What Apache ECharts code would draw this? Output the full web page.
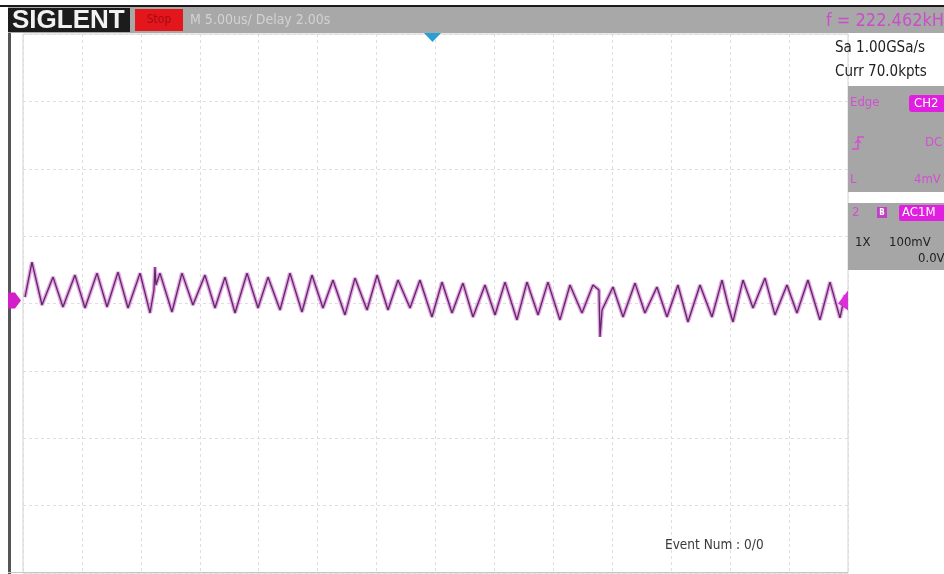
<!DOCTYPE html>
<html><head><meta charset="utf-8">
<script src="https://cdn.jsdelivr.net/npm/echarts@6/dist/echarts.min.js"></script>
<style>html,body{margin:0;padding:0;background:#fff}#c{width:944px;height:574px}</style>
</head><body><div id="c"></div>
<script>
// time (µs) and CH2 voltage (mV)
const timeUs = [
 -34.83,-34.24,-33.39,-32.45,-31.61,-30.59,-29.74,-28.72,-27.87,-26.94,
 -26.09,-25.07,-24.22,-23.89,-23.80,-23.72,-23.38,-22.36,-21.51,-20.58,
 -19.56,-18.71,-17.86,-17.01,-15.99,-15.06,-14.21,-13.19,-12.35,-11.33,
 -10.48,-9.55,-8.70,-7.68,-6.83,-5.81,-4.96,-4.03,-3.18,-2.16,
 -1.32,-0.30,0.55,1.40,2.33,3.18,4.20,5.05,5.90,6.91,
 7.76,8.70,9.54,10.56,11.41,12.43,13.36,13.87,13.96,14.13,
 15.06,15.91,16.93,17.77,18.79,19.64,20.57,21.42,22.44,23.46,
 24.31,24.82,25.24,26.09,26.94,27.96,28.80,29.82,30.67,31.60,
 32.62,33.47,34.32,34.74];
const voltsMv = [
 9.6,61.4,-2.2,39.2,-5.2,42.2,-6.7,45.1,-5.2,46.6,
 -6.7,45.1,-14.1,20.0,54.0,27.4,45.1,-12.6,45.1,-2.2,
 42.2,-6.7,39.2,-14.1,45.1,-6.7,39.2,-9.6,45.1,-12.6,
 42.2,-6.7,34.8,-17.0,37.7,-9.6,42.2,-9.6,34.8,-6.7,
 34.8,-20.0,31.8,-14.1,30.3,-20.0,27.4,-17.0,31.8,-24.4,
 31.8,-17.0,31.8,-24.4,27.4,-14.1,27.4,20.0,-49.6,-9.6,
 24.4,-20.0,30.3,-14.1,24.4,-20.0,27.4,-27.4,27.4,-20.0,
 34.8,-2.2,-27.4,34.8,-6.7,37.7,-17.0,27.4,-14.1,34.8,
 -24.4,31.8,-21.4,12.6];
// axes: 14 horizontal divisions of 5 µs, 8 vertical divisions of 100 mV
const xRange = [-35, 35], xDiv = 5;
const yRange = [-400, 400], yDiv = 100;
// on-screen texts
const brandText = 'SIGLENT', stateText = 'Stop', timebaseText = 'M 5.00us/ Delay 2.00s';
const freqText = 'f = 222.462kHz', sampleText = 'Sa 1.00GSa/s', currText = 'Curr 70.0kpts';
const trigTexts = ['Edge', 'CH2', 'DC', 'L', '4mV'];
const chanTexts = ['2', 'AC1M', '1X', '100mV', '0.0V'];
const eventText = 'Event Num : 0/0';

const F = "'Liberation Sans Narrow','DejaVu Sans Condensed',sans-serif";
const MAG = '#d24fd2';
const pts = timeUs.map((t, i) => [t, voltsMv[i]]);

const chart = echarts.init(document.getElementById('c'), null, {renderer: 'canvas'});
const gridLine = {show: true, lineStyle: {color: '#dedede', width: 1, type: [3, 3]}};
chart.setOption({
  animation: false,
  backgroundColor: '#ffffff',
  grid: {left: 23, top: 34, width: 825, height: 539, show: true, borderColor: '#d2d2d2', borderWidth: 1},
  xAxis: {type: 'value', min: xRange[0], max: xRange[1], interval: xDiv,
    axisLine: {show: false}, axisTick: {show: false}, axisLabel: {show: false}, splitLine: gridLine},
  yAxis: {type: 'value', min: yRange[0], max: yRange[1], interval: yDiv,
    axisLine: {show: false}, axisTick: {show: false}, axisLabel: {show: false}, splitLine: gridLine},
  series: [
    {type: 'line', data: pts, symbol: 'none', silent: true, z: 2,
      lineStyle: {color: 'rgba(205,70,205,0.5)', width: 4}},
    {type: 'line', data: pts, symbol: 'none', silent: true, z: 3,
      lineStyle: {color: '#5b2a60', width: 1.3}}
  ]
});

const g = [];
// top bar
g.push({type: 'rect', shape: {x: 0, y: 5, width: 944, height: 2}, style: {fill: '#1a1a1a'}, z: 10});
g.push({type: 'rect', shape: {x: 8, y: 7, width: 936, height: 26}, style: {fill: '#a8a8a8'}, z: 10});
g.push({type: 'rect', shape: {x: 8, y: 8, width: 122, height: 24}, style: {fill: '#1c1c1c'}, z: 11});
g.push({type: 'text', x: 12, y: 21, z: 12, style: {text: brandText, fill: '#f2f2f2', font: "bold 26px 'Liberation Sans',sans-serif", textVerticalAlign: 'middle'}});
g.push({type: 'rect', shape: {x: 135, y: 9, width: 48, height: 22}, style: {fill: '#e3161c'}, z: 11});
g.push({type: 'text', x: 159, y: 20, z: 12, style: {text: stateText, fill: '#a30d12', font: '12px ' + F, textAlign: 'center', textVerticalAlign: 'middle'}});
g.push({type: 'text', x: 190, y: 20, z: 12, style: {text: timebaseText, fill: '#d2d2d2', font: '14px ' + F, textVerticalAlign: 'middle'}});
g.push({type: 'text', x: 826, y: 21, z: 12, style: {text: freqText, fill: '#c84fc8', font: '18px ' + F, textVerticalAlign: 'middle'}});
// left frame + bottom line
g.push({type: 'rect', shape: {x: 8, y: 33, width: 3, height: 541}, style: {fill: '#555555'}, z: 10});
g.push({type: 'rect', shape: {x: 8, y: 572, width: 840, height: 1}, style: {fill: '#c6c6c6'}, z: 10});
// trigger position marker
g.push({type: 'polygon', shape: {points: [[424, 33], [441, 33], [432.5, 42]]}, style: {fill: '#2a9fd6'}, z: 12});
// right info panel
g.push({type: 'text', x: 835, y: 48, z: 12, style: {text: sampleText, fill: '#222', font: '15px ' + F, textVerticalAlign: 'middle'}});
g.push({type: 'text', x: 835, y: 72, z: 12, style: {text: currText, fill: '#222', font: '15px ' + F, textVerticalAlign: 'middle'}});
g.push({type: 'rect', shape: {x: 848, y: 86, width: 96, height: 106}, style: {fill: '#a6a6a6'}, z: 10});
g.push({type: 'text', x: 850, y: 103, z: 12, style: {text: trigTexts[0], fill: MAG, font: '13px ' + F, textVerticalAlign: 'middle'}});
g.push({type: 'rect', shape: {x: 909, y: 95, width: 40, height: 17, r: 3}, style: {fill: '#e01fe0'}, z: 11});
g.push({type: 'text', x: 914, y: 104, z: 12, style: {text: trigTexts[1], fill: '#ffffff', font: '13px ' + F, textVerticalAlign: 'middle'}});
g.push({type: 'polyline', shape: {points: [[852, 149], [858, 149], [858, 137], [864, 137]]}, style: {stroke: MAG, lineWidth: 1.5, fill: null}, z: 12});
g.push({type: 'polyline', shape: {points: [[855, 143], [858, 140], [861, 143]]}, style: {stroke: MAG, lineWidth: 1.2, fill: null}, z: 12});
g.push({type: 'text', x: 925, y: 143, z: 12, style: {text: trigTexts[2], fill: MAG, font: '13px ' + F, textVerticalAlign: 'middle'}});
g.push({type: 'text', x: 850, y: 180, z: 12, style: {text: trigTexts[3], fill: MAG, font: '13px ' + F, textVerticalAlign: 'middle'}});
g.push({type: 'text', x: 914, y: 180, z: 12, style: {text: trigTexts[4], fill: MAG, font: '13px ' + F, textVerticalAlign: 'middle'}});
g.push({type: 'rect', shape: {x: 848, y: 203, width: 96, height: 67}, style: {fill: '#a6a6a6'}, z: 10});
g.push({type: 'text', x: 852, y: 213, z: 12, style: {text: chanTexts[0], fill: MAG, font: '13px ' + F, textVerticalAlign: 'middle'}});
g.push({type: 'rect', shape: {x: 877, y: 207, width: 10, height: 11}, style: {fill: '#c040c8'}, z: 11});
g.push({type: 'text', x: 882, y: 213, z: 12, style: {text: 'B', fill: '#ffffff', font: 'bold 8px ' + F, textAlign: 'center', textVerticalAlign: 'middle'}});
g.push({type: 'rect', shape: {x: 899, y: 205, width: 50, height: 16, r: 2}, style: {fill: '#e01fe0'}, z: 11});
g.push({type: 'text', x: 902, y: 213, z: 12, style: {text: chanTexts[1], fill: '#ffffff', font: '13px ' + F, textVerticalAlign: 'middle'}});
g.push({type: 'text', x: 855, y: 243, z: 12, style: {text: chanTexts[2], fill: '#222', font: '13px ' + F, textVerticalAlign: 'middle'}});
g.push({type: 'text', x: 889, y: 243, z: 12, style: {text: chanTexts[3], fill: '#222', font: '13px ' + F, textVerticalAlign: 'middle'}});
g.push({type: 'text', x: 918, y: 259, z: 12, style: {text: chanTexts[4], fill: '#222', font: '13px ' + F, textVerticalAlign: 'middle'}});
g.push({type: 'text', x: 665, y: 545, z: 12, style: {text: eventText, fill: '#3a3a3a', font: '13.5px ' + F, textVerticalAlign: 'middle'}});
// channel ground / offset markers, placed at 0 mV through the axes
const gnd = chart.convertToPixel({gridIndex: 0}, [xRange[0], 0]);
const gy = gnd[1] - 3;
g.push({type: 'polygon', shape: {points: [[8, gy - 8], [15, gy - 8], [21, gy], [15, gy + 8], [8, gy + 8]]}, style: {fill: '#d21fc8'}, z: 12});
g.push({type: 'polygon', shape: {points: [[848, gy - 10], [848, gy + 10], [838, gy + 3]]}, style: {fill: '#d92fd9'}, z: 12});
chart.setOption({graphic: {elements: g}});
</script></body></html>
